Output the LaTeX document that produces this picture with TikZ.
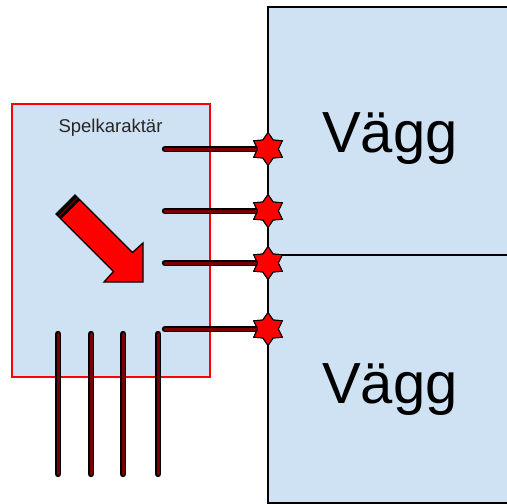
\documentclass[tikz,border=0pt]{standalone}
\usepackage{fontspec}
\setmainfont{Liberation Sans}
\usetikzlibrary{shapes.geometric}
\definecolor{paleblue}{HTML}{CFE2F3}
\definecolor{raycol}{HTML}{780000}
\begin{document}
\begin{tikzpicture}[x=1pt,y=-1pt,
  wallbox/.style={fill=paleblue,draw=black,line width=1.8pt},
  charbox/.style={fill=paleblue,draw=red,line width=1.4pt},
  ray/.style={draw=black,line width=1.7pt,double=raycol,double distance=3pt,line cap=round},
  hit/.style={star,star points=6,star point ratio=1.6,minimum size=33pt,inner sep=0pt,fill=red,draw=black,line width=1pt},
  bigtext/.style={anchor=base,font=\fontsize{58}{60}\selectfont},
  smalltext/.style={anchor=base,font=\fontsize{18.5}{20}\selectfont,text=black!85}]
\useasboundingbox (0,0) rectangle (507,504);
\clip (0,0) rectangle (507,504);
% walls
\path[wallbox] (268,7) rectangle (515,255);
\path[wallbox] (268,255) rectangle (515,503);
\node[bigtext] (w1) at (390,152) {Vägg};
\node[bigtext] (w2) at (390,403) {Vägg};
% character box
\path[charbox] (12,104) rectangle (210,377);
\node[smalltext] (lbl) at (110.5,132.5) {Spelkaraktär};
% direction arrow
\path[fill=red,draw=black,line width=1.3pt,line join=miter]
  (75,195) -- (132.5,252.5) -- (143,243) -- (143,282) -- (104,282) -- (113.5,271.5) -- (56,214) -- cycle;
\path[fill=black] (56,214) -- (75,195) -- (80,200) -- (61,219) -- cycle;
\draw[raycol,line width=0.8pt] (58.5,216.5) -- (77.5,197.5);
% vertical rays
\foreach \x/\n in {58/v1,91/v2,123/v3,158/v4}{
  \coordinate (\n a) at (\x,334);
  \coordinate (\n b) at (\x,474);
  \draw[ray] (\n a) -- (\n b);
}
% horizontal rays and hits
\foreach \y/\n in {149/1,211/2,263/3,329/4}{
  \coordinate (h\n) at (165,\y);
  \node[hit] (s\n) at (268,\y) {};
  \draw[ray] (h\n) -- (s\n.center);
  \node[hit] at (s\n.center) {};
}
\end{tikzpicture}
\end{document}
